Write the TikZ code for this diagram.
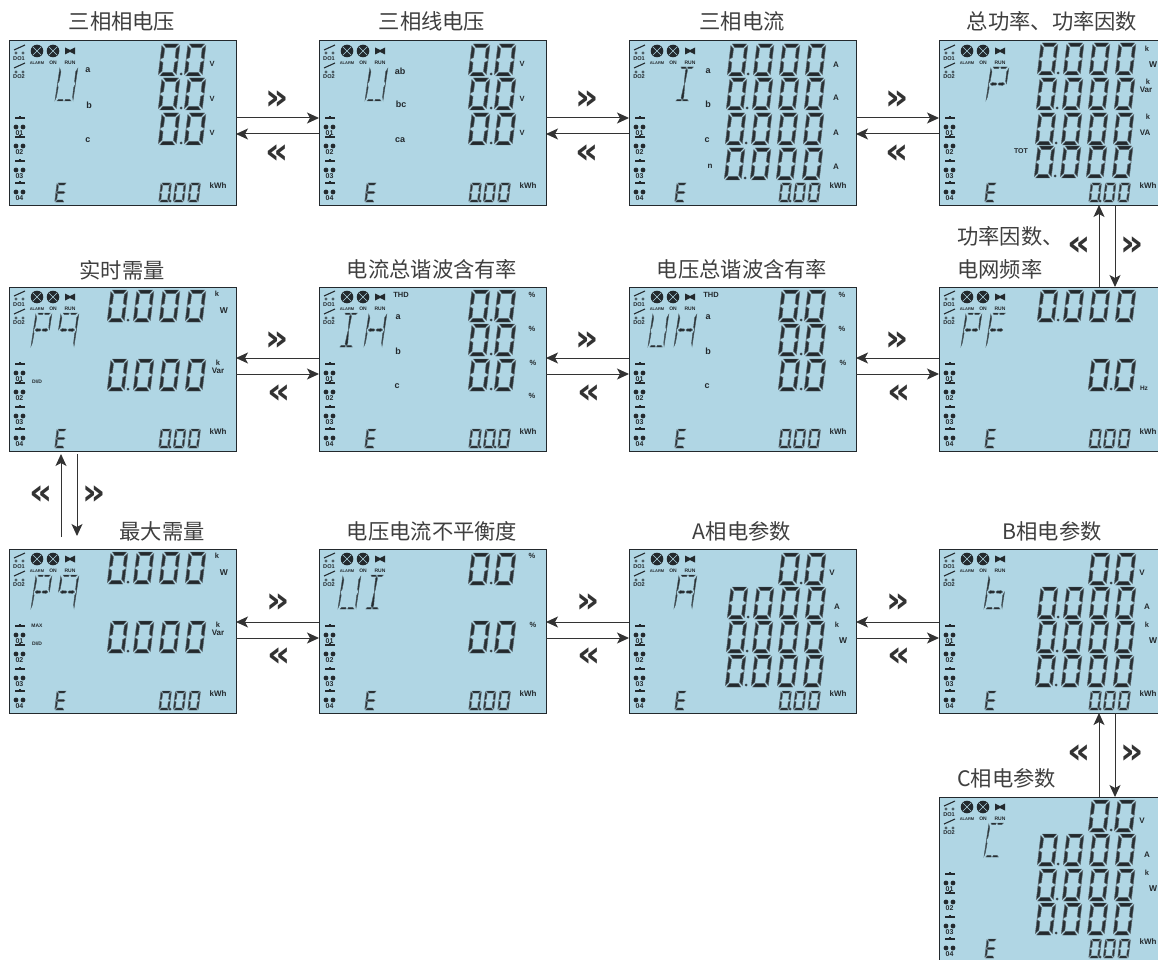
\documentclass[tikz,border=0pt]{standalone}
\usepackage{fontspec}
\setmainfont{Liberation Sans}
\newfontfamily\cjkfam{Noto Sans CJK SC}
\newfontfamily\chevfam{DejaVu Sans}
\usetikzlibrary{arrows.meta}
\definecolor{lcdbg}{HTML}{B0D6E4}
\definecolor{lcdink}{HTML}{23292D}
\definecolor{lcdedge}{HTML}{5F6C73}
\definecolor{inkline}{HTML}{333333}
\definecolor{labelgray}{HTML}{3F3F3F}
\newcounter{lcdn}
\tikzset{
  panel/.style={draw=lcdink,line width=1pt,fill=lcdbg,minimum width=227pt,minimum height=164pt,inner sep=0pt,outer sep=0pt,anchor=north west},
  conn/.style={draw=inkline,line width=1pt,-{Stealth[length=12pt,width=11pt,inset=3pt]}},
  caption/.style={text=labelgray,inner sep=0pt,font=\cjkfam\fontsize{21.3}{25}\selectfont},
  chev/.style={text=inkline,inner sep=0pt,font=\chevfam\bfseries\fontsize{36}{36}\selectfont},
  barseg/.style={fill=lcdink,draw=lcdedge,line width=.3pt},
  sideseg/.style={fill=lcdink!90!lcdedge,draw=lcdedge,line width=.5pt},
  thinseg/.style={fill=lcdink,draw=lcdink!70!lcdbg,line width=.45pt},
  lcdline/.style={draw=lcdink,line width=1.1pt},
}
% seven-segment pieces, unit box
\def\sga{\path[barseg] (.08,0)--(.92,0)--(.76,.11)--(.24,.11)--cycle;}
\def\sgd{\path[barseg] (.08,1)--(.92,1)--(.76,.89)--(.24,.89)--cycle;}
\def\sgg{\path[barseg] (.08,.5)--(.22,.44)--(.78,.44)--(.92,.5)--(.78,.56)--(.22,.56)--cycle;}
\def\sgf{\path[sideseg] (0,.05)--(.18,.15)--(.18,.42)--(0,.48)--cycle;}
\def\sge{\path[sideseg] (0,.52)--(.18,.58)--(.18,.85)--(0,.95)--cycle;}
\def\sgb{\path[sideseg] (1,.05)--(.82,.15)--(.82,.42)--(1,.48)--cycle;}
\def\sgc{\path[sideseg] (1,.52)--(.82,.58)--(.82,.85)--(1,.95)--cycle;}
% thin letter pieces
\def\sgLf{\path[thinseg] (0,.04)--(.09,.14)--(.07,.42)--(0,.49)--cycle;}
\def\sgLe{\path[thinseg] (0,.51)--(.07,.6)--(.05,.88)--(0,.97)--cycle;}
\def\sgLb{\path[thinseg] (1,.04)--(.91,.14)--(.93,.42)--(1,.49)--cycle;}
\def\sgLc{\path[thinseg] (1,.51)--(.93,.6)--(.95,.88)--(1,.97)--cycle;}
\def\sgLp{\path[thinseg] (.12,0)--(.46,0)--(.42,.05)--(.2,.05)--cycle;}
\def\sgLq{\path[thinseg] (.54,0)--(.9,0)--(.8,.05)--(.58,.05)--cycle;}
\def\sgLr{\path[thinseg] (.12,1)--(.46,1)--(.42,.95)--(.2,.95)--cycle;}
\def\sgLs{\path[thinseg] (.54,1)--(.9,1)--(.8,.95)--(.58,.95)--cycle;}
\def\sgLg{\path[thinseg] (.1,.5)--(.2,.46)--(.42,.47)--(.47,.5)--(.42,.53)--(.2,.54)--cycle;}
\def\sgLh{\path[thinseg] (.53,.5)--(.58,.47)--(.8,.46)--(.9,.5)--(.8,.54)--(.58,.53)--cycle;}
\def\sgLm{\path[thinseg] (.5,.04)--(.56,.1)--(.53,.44)--(.5,.49)--(.47,.44)--(.44,.1)--cycle;}
\def\sgLn{\path[thinseg] (.5,.51)--(.53,.56)--(.58,.9)--(.5,.97)--(.42,.9)--(.47,.56)--cycle;}
% x y w h slant segments
\newcommand\lcdglyph[6]{\begin{scope}[shift={(#1,#2)},xslant=#5,xscale=#3,yscale=#4]
  \foreach \s in {#6}{\csname sg\s\endcsname}\end{scope}}
\newcommand\lcdzero[4]{\lcdglyph{#1}{#2}{#3}{#4}{.12}{a,b,c,d,e,f}}
\newcommand\lcddot[2]{\fill[lcdink!85!lcdbg] (#1,#2) circle (1.5pt);}
\newcommand\lcdt[4]{\stepcounter{lcdn}\node[inner sep=0pt,text=lcdink,font=\bfseries\fontsize{#3}{#3}\selectfont] (lt\thelcdn) at (#1,#2) {#4};}
\newcommand\lcdletter[3]{\lcdglyph{#1}{26}{#2}{34}{.15}{#3}}
% rows
\newcommand\rowshort[1]{\lcdzero{153}{#1}{18}{32}\lcdzero{179}{#1}{18}{32}\pgfmathsetmacro\yy{#1+30}\lcddot{172}{\yy}}
\newcommand\rowlong[2]{\foreach \dx in {102,128,154,180}{\pgfmathsetmacro\xx{\dx+#1}\lcdzero{\xx}{#2}{17}{32}}\pgfmathsetmacro\xx{119+#1}\pgfmathsetmacro\yy{#2+30}\lcddot{\xx}{\yy}}
\newcommand\lcdbase{%
  \draw[lcdline] (5,9)--(16,4) (5,27)--(16,22);
  \foreach \yy in {12,31}{\fill[lcdink!70!lcdbg] (7,\yy) circle (1.6pt) (14,\yy) circle (1.6pt);}
  \lcdt{10}{18}{5.6}{DO1}\lcdt{10}{36}{5.6}{DO2}
  \foreach \xx in {28,44}{\fill[lcdink] (\xx,10) circle (6.3pt);
    \draw[lcdbg,line width=.4pt] (\xx-4,6)--(\xx+4,14) (\xx+4,6)--(\xx-4,14);}
  \fill[lcdink] (56,6.5)--(61,9)--(66,6.5)--(66,13.5)--(61,11)--(56,13.5)--cycle;
  \lcdt{28}{22}{4}{ALARM}\lcdt{44}{22}{5}{ON}\lcdt{61}{22}{5}{RUN}
  \foreach \yy/\tt in {77/01,96/02,120/03,142/04}{
    \draw[lcdline] (6,\yy)--(16,\yy);
    \fill[lcdink] (9.5,\yy-2) rectangle (12,\yy);
    \pgfmathsetmacro\dy{\yy+9}\pgfmathsetmacro\ty{\yy+15}
    \fill[lcdink] (7,\dy) circle (2.4pt) (14,\dy) circle (2.4pt);
    \lcdt{10.5}{\ty}{7}{\tt}}
  \lcdglyph{48}{142}{10}{19}{.12}{a,d,e,f,g}
  \lcdzero{152}{142}{10.5}{19}\lcdzero{166.5}{142}{10.5}{19}\lcdzero{181}{142}{10.5}{19}
  \lcddot{161}{160}
  \lcdt{209}{145}{8}{kWh}}
\newcommand\panelat[4]{\node[panel] (#1) at (#2,#3) {};
  \begin{scope}[shift={(#1.north west)}]\lcdbase #4\end{scope}}
\begin{document}
\begin{tikzpicture}[x=1pt,y=-1pt]
\useasboundingbox (0,0) rectangle (1158,960);
\clip (0,0) rectangle (1158,960);
% row 1
\panelat{p1}{9}{41}{\lcdletter{51}{18}{Lf,Le,Lb,Lc,Lr,Ls}
  \rowshort{3}\rowshort{37}\rowshort{72}
  \lcdt{203}{23}{7.5}{V}\lcdt{203}{58}{7.5}{V}\lcdt{203}{92}{7.5}{V}
  \lcdt{79}{29}{9}{a}\lcdt{80}{64}{9}{b}\lcdt{79}{99}{9}{c}}
\panelat{p2}{319}{41}{\lcdletter{51}{18}{Lf,Le,Lb,Lc,Lr,Ls}
  \rowshort{3}\rowshort{37}\rowshort{72}
  \lcdt{203}{23}{7.5}{V}\lcdt{203}{58}{7.5}{V}\lcdt{203}{92}{7.5}{V}
  \lcdt{81}{30}{9}{ab}\lcdt{82}{63}{9}{bc}\lcdt{81}{99}{9}{ca}}
\panelat{p3}{629}{41}{\lcdletter{50}{16}{Lp,Lq,Lm,Ln,Lr,Ls}
  \rowlong{0}{3}\rowlong{-1}{37}\rowlong{-2}{72}\rowlong{-3}{107}
  \lcdt{207}{24}{8}{A}\lcdt{207}{57}{8}{A}\lcdt{207}{92}{8}{A}\lcdt{207}{126}{8}{A}
  \lcdt{79}{30}{9}{a}\lcdt{79}{63}{9}{b}\lcdt{78}{99}{9}{c}\lcdt{81}{125}{8}{n}}
\panelat{p4}{939}{41}{\lcdletter{52}{18}{Lp,Lq,Lf,Le,Lb,Lg,Lh}
  \rowlong{0}{2}\rowlong{-1}{37}\rowlong{-2}{72}\rowlong{-3}{105}
  \lcdt{208}{8}{7.5}{k}\lcdt{214}{24}{8.5}{W}\lcdt{209}{41}{7.5}{k}\lcdt{207}{49}{8}{Var}
  \lcdt{209}{76}{7.5}{k}\lcdt{206}{92}{8}{VA}\lcdt{82}{110}{7}{TOT}}
% row 2
\panelat{p5}{9}{287}{\lcdletter{27}{16}{Lp,Lq,Lf,Le,Lb,Lg,Lh}\lcdletter{52}{18}{Lp,Lq,Lf,Lb,Lc,Lg,Lh}
  \rowlong{0}{3}\rowlong{0}{72}
  \lcdt{208}{7}{7.5}{k}\lcdt{215}{24}{8.5}{W}\lcdt{209}{76}{7.5}{k}\lcdt{209}{84}{8}{Var}
  \lcdt{28}{95}{5}{DI/D}}
\panelat{p6}{319}{287}{\lcdletter{24}{16}{Lp,Lq,Lm,Ln,Lr,Ls}\lcdletter{50}{18}{Lf,Le,Lb,Lc,Lg,Lh}
  \rowshort{3}\rowshort{37}\rowshort{72}\lcddot{176}{160}
  \lcdt{82}{8}{7.5}{THD}\lcdt{79}{30}{9}{a}\lcdt{79}{64}{9}{b}\lcdt{78}{99}{9}{c}
  \lcdt{213}{8}{7.5}{\%}\lcdt{213}{42}{7.5}{\%}\lcdt{214}{76}{7.5}{\%}\lcdt{213}{109}{7.5}{\%}}
\panelat{p7}{629}{287}{\lcdletter{24}{16}{Lf,Le,Lb,Lc,Lr,Ls}\lcdletter{50}{18}{Lf,Le,Lb,Lc,Lg,Lh}
  \rowshort{3}\rowshort{37}\rowshort{72}
  \lcdt{82}{8}{7.5}{THD}\lcdt{79}{30}{9}{a}\lcdt{79}{64}{9}{b}\lcdt{78}{99}{9}{c}
  \lcdt{213}{8}{7.5}{\%}\lcdt{213}{42}{7.5}{\%}\lcdt{214}{76}{7.5}{\%}}
\panelat{p8}{939}{287}{\lcdletter{27}{16}{Lp,Lq,Lf,Le,Lb,Lg,Lh}\lcdletter{52}{16}{Lp,Lq,Lf,Le,Lg,Lh}
  \rowlong{0}{3}\rowshort{72}
  \lcdt{205}{101}{6.5}{Hz}}
% row 3
\panelat{p9}{9}{549}{\lcdletter{27}{16}{Lp,Lq,Lf,Le,Lb,Lg,Lh}\lcdletter{52}{18}{Lp,Lq,Lf,Lb,Lc,Lg,Lh}
  \rowlong{0}{3}\rowlong{0}{72}
  \lcdt{208}{7}{7.5}{k}\lcdt{215}{24}{8.5}{W}\lcdt{209}{76}{7.5}{k}\lcdt{209}{84}{8}{Var}
  \lcdt{28}{77}{5}{MAX}\lcdt{28}{95}{5}{DI/D}}
\panelat{p10}{319}{549}{\lcdletter{24}{18}{Lf,Le,Lb,Lc,Lr,Ls}\lcdletter{50}{16}{Lp,Lq,Lm,Ln,Lr,Ls}
  \rowshort{4}\rowshort{72}
  \lcdt{213}{7}{7.5}{\%}\lcdt{214}{76}{7.5}{\%}}
\panelat{p11}{629}{549}{\lcdletter{50}{18}{Lp,Lq,Lf,Le,Lb,Lc,Lg,Lh}
  \rowshort{4}\rowlong{0}{38}\rowlong{-1}{72}\rowlong{-2}{106}
  \lcdt{203}{24}{8}{V}\lcdt{208}{58}{8}{A}\lcdt{208}{76}{7.5}{k}\lcdt{214}{92}{8.5}{W}}
\panelat{p12}{939}{549}{\lcdletter{50}{18}{Lf,Le,Lc,Lg,Lh,Lr,Ls}
  \rowshort{4}\rowlong{0}{38}\rowlong{-1}{72}\rowlong{-2}{106}
  \lcdt{203}{24}{8}{V}\lcdt{208}{58}{8}{A}\lcdt{208}{76}{7.5}{k}\lcdt{214}{92}{8.5}{W}}
% row 4
\panelat{p13}{939}{797}{\lcdletter{50}{16}{Lp,Lq,Lf,Le,Lr,Ls}
  \rowshort{3}\rowlong{0}{37}\rowlong{-1}{72}\rowlong{-2}{106}
  \lcdt{203}{24}{8}{V}\lcdt{208}{58}{8}{A}\lcdt{208}{76}{7.5}{k}\lcdt{214}{92}{8.5}{W}}
% captions
\node[caption] (c1) at (122,21) {三相相电压};
\node[caption] (c2) at (432,21) {三相线电压};
\node[caption] (c3) at (742,21) {三相电流};
\node[caption] (c4) at (1052,21) {总功率、功率因数};
\node[caption] (c5) at (122,270) {实时需量};
\node[caption] (c6) at (432,269) {电流总谐波含有率};
\node[caption] (c7) at (742,269) {电压总谐波含有率};
\node[caption,anchor=west] (c8a) at (957,236) {功率因数、};
\node[caption,anchor=west] (c8b) at (957,269) {电网频率};
\node[caption] (c9) at (162,531) {最大需量};
\node[caption] (c10) at (432,531) {电压电流不平衡度};
\node[caption] (c11) at (742,531) {A相电参数};
\node[caption] (c12) at (1052,531) {B相电参数};
\node[caption,anchor=west] (c13) at (957,778) {C相电参数};
% free ends
\coordinate (fu) at (61,537);
\coordinate (fd) at (77,454);
% horizontal connectors
\foreach \a/\b in {p1/p2,p2/p3,p3/p4}{
  \draw[conn] ([yshift=5pt]\a.east) -- ([yshift=5pt]\b.west);
  \draw[conn] ([yshift=-11pt]\b.west) -- ([yshift=-11pt]\a.east);}
\foreach \a/\b in {p5/p6,p6/p7,p7/p8}{
  \draw[conn] ([yshift=11pt]\b.west) -- ([yshift=11pt]\a.east);
  \draw[conn] ([yshift=-5pt]\a.east) -- ([yshift=-5pt]\b.west);}
\foreach \a/\b in {p9/p10,p10/p11,p11/p12}{
  \draw[conn] ([yshift=9pt]\b.west) -- ([yshift=9pt]\a.east);
  \draw[conn] ([yshift=-7pt]\a.east) -- ([yshift=-7pt]\b.west);}
% vertical connectors
\draw[conn] ([xshift=46.5pt]p8.north) -- ([xshift=46.5pt]p4.south);
\draw[conn] ([xshift=62.5pt]p4.south) -- ([xshift=62.5pt]p8.north);
\draw[conn] ([xshift=46.5pt]p13.north) -- ([xshift=46.5pt]p12.south);
\draw[conn] ([xshift=62.5pt]p12.south) -- ([xshift=62.5pt]p13.north);
\draw[conn] (fu) -- ([xshift=-61.5pt,yshift=-3pt]p5.south);
\draw[conn] (fd) -- ([xshift=-45.5pt,yshift=13pt]p9.north);
% chevrons
\foreach \x [count=\i] in {277,587,897}{
  \node[chev] (ra\i) at (\x,100) {»}; \node[chev] (la\i) at (\x,154) {«};
  \node[chev] (rb\i) at (\x,341) {»}; \node[chev] (lb\i) at (\x+2,394) {«};
  \node[chev] (rc\i) at (\x+1,603) {»}; \node[chev] (lc\i) at (\x+2,657) {«};}
\node[chev] (lv1) at (1079,246) {«}; \node[chev] (rv1) at (1132,246) {»};
\node[chev] (lv2) at (41,495) {«}; \node[chev] (rv2) at (94,495) {»};
\node[chev] (lv3) at (1079,754) {«}; \node[chev] (rv3) at (1132,754) {»};
\end{tikzpicture}
\end{document}
